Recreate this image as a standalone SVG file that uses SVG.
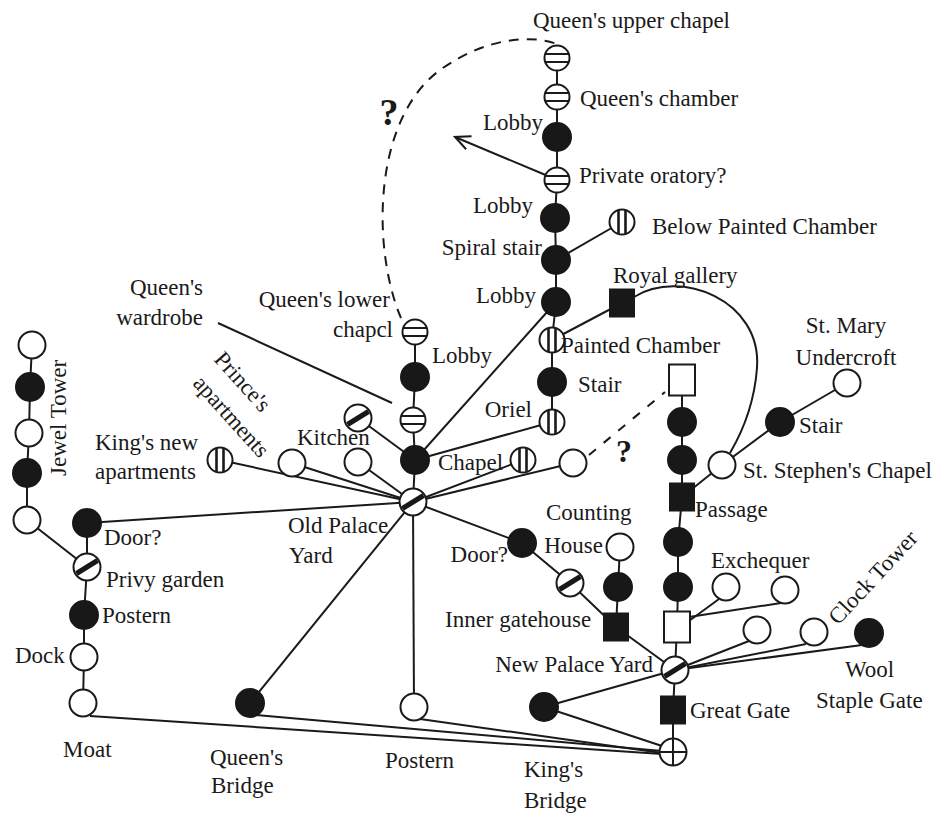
<svg xmlns="http://www.w3.org/2000/svg" xmlns:xlink="http://www.w3.org/1999/xlink" width="938" height="817" viewBox="0 0 938 817">
<style>
.ln{stroke:#1a1a1a;stroke-width:2;fill:none}
.ds{stroke:#1a1a1a;stroke-width:2;fill:none;stroke-dasharray:10 8}
.w{fill:#fff;stroke:#1a1a1a;stroke-width:2}
.b{fill:#181818;stroke:#181818;stroke-width:2}
.st{stroke:#1a1a1a;stroke-width:2;fill:none}
.sv{stroke:#1a1a1a;stroke-width:2.6;fill:none}
.sd{stroke:#181818;stroke-width:5;fill:none}
text{font-family:"Liberation Serif","Times New Roman",serif;font-size:23px;fill:#1a1a1a}
.q{font-size:38px;font-weight:bold}
</style>
<defs>
<g id="cw"><circle r="13.5" class="w"/></g>
<g id="cb"><circle r="14" class="b"/></g>
<g id="ch"><circle r="12.5" class="w"/><path class="st" d="M-11.8 -4H11.8M-11.8 4H11.8"/></g>
<g id="cv"><circle r="12.5" class="w"/><path class="sv" d="M-3.5 -12V12M3.5 -12V12"/></g>
<g id="cd"><circle r="13.5" class="w"/><path class="sd" d="M-10.5 6.5L10.5 -6.5"/></g>
<g id="cx"><circle r="13.5" class="w"/><path class="st" d="M-13.5 0H13.5M0 -13.5V13.5"/></g>
<g id="sb"><rect x="-12" y="-13.5" width="24" height="27" class="b"/></g>
<g id="sw"><rect x="-13" y="-15.5" width="26" height="31" class="w"/></g>
<marker id="arr" viewBox="-16 -8 18 16" refX="0" refY="0" markerWidth="18" markerHeight="16" markerUnits="userSpaceOnUse" orient="auto"><path d="M-15 -7L0 0L-15 7" fill="none" stroke="#1a1a1a" stroke-width="2"/></marker>
</defs>
<rect width="938" height="817" fill="#fff"/>
<g id="connectors">
<polyline class="ln" points="557,58 557,97 557,137 557,180 555,218 556,260 556,302 552,340 552,382 552,422"/>
<line class="ln" x1="556" y1="260" x2="622" y2="222"/>
<line class="ln" x1="552" y1="340" x2="622" y2="303"/>
<path class="ln" d="M634 297C680 268 762 300 757 368C754 408 740 436 730 453"/>
<line class="ln" x1="548" y1="176" x2="455" y2="137" marker-end="url(#arr)"/>
<line class="ln" x1="556" y1="302" x2="415" y2="460"/>
<line class="ln" x1="552" y1="422" x2="415" y2="460"/>
<line class="ln" x1="523" y1="460" x2="413" y2="502"/>
<line class="ln" x1="573" y1="463" x2="413" y2="502"/>
<line class="ln" x1="522" y1="543" x2="413" y2="502"/>
<polyline class="ln" points="522,543 570,583 616,627 675,670"/>
<polyline class="ln" points="620,547 618,587 616,627"/>
<polyline class="ln" points="415,332 415,377 413,420 415,460 413,502"/>
<line class="ln" x1="358" y1="418" x2="415" y2="460"/>
<line class="ln" x1="358" y1="462" x2="413" y2="502"/>
<line class="ln" x1="292" y1="463" x2="413" y2="502"/>
<line class="ln" x1="220" y1="460" x2="413" y2="502"/>
<line class="ln" x1="87" y1="523" x2="413" y2="502"/>
<line class="ln" x1="250" y1="703" x2="413" y2="502"/>
<line class="ln" x1="414" y1="707" x2="413" y2="502"/>
<polyline class="ln" points="32,345 30,387 29,433 27,473 27,520 87,567"/>
<polyline class="ln" points="87,523 87,567 84,615 84,657 83,703"/>
<line class="ln" x1="90" y1="716" x2="662" y2="754"/>
<line class="ln" x1="256" y1="715" x2="662" y2="751"/>
<line class="ln" x1="420" y1="719" x2="662" y2="753"/>
<line class="ln" x1="544" y1="707" x2="662" y2="746"/>
<line class="ln" x1="544" y1="707" x2="675" y2="670"/>
<polyline class="ln" points="682,380 682,422 682,460 682,497 678,542 678,587 677,627 675,670 673,710 673,752"/>
<line class="ln" x1="682" y1="497" x2="722" y2="465"/>
<polyline class="ln" points="722,465 780,422 847,383"/>
<line class="ln" x1="689" y1="621" x2="719" y2="599"/>
<line class="ln" x1="689" y1="617" x2="781" y2="603"/>
<line class="ln" x1="675" y1="670" x2="749" y2="641"/>
<line class="ln" x1="675" y1="670" x2="806" y2="644"/>
<line class="ln" x1="675" y1="670" x2="862" y2="645"/>
<line class="ln" x1="218" y1="323" x2="392" y2="403"/>
<path class="ds" d="M401 318C372 250 372 120 440 70C485 38 530 34 557 44"/>
<line class="ds" x1="589" y1="455" x2="665" y2="392" style="stroke-dasharray:9 10"/>
</g>
<g id="n-queens-upper-chapel"><use href="#ch" x="557" y="58"/></g>
<g id="n-queens-chamber"><use href="#ch" x="557" y="97"/></g>
<g id="n-lobby1"><use href="#cb" x="557" y="137"/></g>
<g id="n-private-oratory"><use href="#ch" x="557" y="180"/></g>
<g id="n-lobby2"><use href="#cb" x="555" y="218"/></g>
<g id="n-spiral-stair"><use href="#cb" x="556" y="260"/></g>
<g id="n-lobby3"><use href="#cb" x="556" y="302"/></g>
<g id="n-painted-chamber"><use href="#cv" x="552" y="340"/></g>
<g id="n-stair"><use href="#cb" x="552" y="382"/></g>
<g id="n-oriel"><use href="#cv" x="552" y="422"/></g>
<g id="n-below-painted"><use href="#cv" x="622" y="222"/></g>
<g id="n-royal-gallery"><use href="#sb" x="622" y="303"/></g>
<g id="n-queens-lower-chapel"><use href="#ch" x="415" y="332"/></g>
<g id="n-lobby4"><use href="#cb" x="415" y="377"/></g>
<g id="n-striped-chapel-side"><use href="#ch" x="413" y="420"/></g>
<g id="n-chapel"><use href="#cb" x="415" y="460"/></g>
<g id="n-chapel-striped"><use href="#cv" x="523" y="460"/></g>
<g id="n-open-q"><use href="#cw" x="573" y="463"/></g>
<g id="n-old-palace-yard"><use href="#cd" x="413" y="502"/></g>
<g id="n-kitchen"><use href="#cd" x="358" y="418"/></g>
<g id="n-kitchen-open"><use href="#cw" x="358" y="462"/></g>
<g id="n-princes"><use href="#cw" x="292" y="463"/></g>
<g id="n-kings-new"><use href="#cv" x="220" y="460"/></g>
<g id="n-jewel1"><use href="#cw" x="32" y="345"/></g>
<g id="n-jewel2"><use href="#cb" x="30" y="387"/></g>
<g id="n-jewel3"><use href="#cw" x="29" y="433"/></g>
<g id="n-jewel4"><use href="#cb" x="27" y="473"/></g>
<g id="n-jewel5"><use href="#cw" x="27" y="520"/></g>
<g id="n-door-left"><use href="#cb" x="87" y="523"/></g>
<g id="n-privy-garden"><use href="#cd" x="87" y="567"/></g>
<g id="n-postern-left"><use href="#cb" x="84" y="615"/></g>
<g id="n-dock"><use href="#cw" x="84" y="657"/></g>
<g id="n-moat"><use href="#cw" x="83" y="703"/></g>
<g id="n-queens-bridge"><use href="#cb" x="250" y="703"/></g>
<g id="n-postern"><use href="#cw" x="414" y="707"/></g>
<g id="n-door-right"><use href="#cb" x="522" y="543"/></g>
<g id="n-inner-gatehouse"><use href="#cd" x="570" y="583"/></g>
<g id="n-counting-house"><use href="#cw" x="620" y="547"/></g>
<g id="n-counting-black"><use href="#cb" x="618" y="587"/></g>
<g id="n-inner-square"><use href="#sb" x="616" y="627"/></g>
<g id="n-white-square-top"><use href="#sw" x="682" y="380"/></g>
<g id="n-r1"><use href="#cb" x="682" y="422"/></g>
<g id="n-r2"><use href="#cb" x="682" y="460"/></g>
<g id="n-passage"><use href="#sb" x="682" y="497"/></g>
<g id="n-r3"><use href="#cb" x="678" y="542"/></g>
<g id="n-r4"><use href="#cb" x="678" y="587"/></g>
<g id="n-white-square-low"><use href="#sw" x="677" y="627"/></g>
<g id="n-st-stephens"><use href="#cw" x="722" y="465"/></g>
<g id="n-stair-right"><use href="#cb" x="780" y="422"/></g>
<g id="n-undercroft"><use href="#cw" x="847" y="383"/></g>
<g id="n-exchequer1"><use href="#cw" x="726" y="587"/></g>
<g id="n-exchequer2"><use href="#cw" x="785" y="590"/></g>
<g id="n-clock1"><use href="#cw" x="757" y="630"/></g>
<g id="n-clock2"><use href="#cw" x="814" y="632"/></g>
<g id="n-wool-staple"><use href="#cb" x="869" y="633"/></g>
<g id="n-new-palace-yard"><use href="#cd" x="675" y="670"/></g>
<g id="n-black-left-npy"><use href="#cb" x="544" y="707"/></g>
<g id="n-great-gate"><use href="#sb" x="673" y="710"/></g>
<g id="n-kings-bridge"><use href="#cx" x="673" y="752"/></g>
<g id="labels">
<text x="533" y="28">Queen's upper chapel</text>
<text x="580" y="106">Queen's chamber</text>
<text x="543" y="130" text-anchor="end">Lobby</text>
<text x="579" y="183">Private oratory?</text>
<text x="533" y="213" text-anchor="end">Lobby</text>
<text x="652" y="234">Below Painted Chamber</text>
<text x="542" y="255" text-anchor="end">Spiral stair</text>
<text x="536" y="303" text-anchor="end">Lobby</text>
<text x="613" y="283">Royal gallery</text>
<text x="561" y="353">Painted Chamber</text>
<text x="390" y="307" text-anchor="end">Queen's lower</text>
<text x="393" y="337" text-anchor="end">chapcl</text>
<text x="432" y="363">Lobby</text>
<text x="203" y="295" text-anchor="end">Queen's</text>
<text x="203" y="325" text-anchor="end">wardrobe</text>
<text transform="translate(213,360) rotate(48)">Prince's</text>
<text transform="translate(192,384) rotate(48)">apartments</text>
<text transform="translate(66,476) rotate(-90)">Jewel Tower</text>
<text x="95" y="450">King's new</text>
<text x="95" y="479">apartments</text>
<text x="297" y="445">Kitchen</text>
<text x="438" y="470">Chapel</text>
<text x="532" y="417" text-anchor="end">Oriel</text>
<text x="578" y="392">Stair</text>
<text x="846" y="333" text-anchor="middle">St. Mary</text>
<text x="846" y="365" text-anchor="middle">Undercroft</text>
<text x="799" y="433">Stair</text>
<text x="743" y="478">St. Stephen's Chapel</text>
<text x="695" y="517">Passage</text>
<text x="288" y="533">Old Palace</text>
<text x="289" y="563">Yard</text>
<text x="104" y="545">Door?</text>
<text x="106" y="587">Privy garden</text>
<text x="102" y="623">Postern</text>
<text x="15" y="663">Dock</text>
<text x="63" y="757">Moat</text>
<text x="210" y="765">Queen's</text>
<text x="211" y="793">Bridge</text>
<text x="385" y="768">Postern</text>
<text x="546" y="520">Counting</text>
<text x="603" y="553" text-anchor="end">House</text>
<text x="508" y="562" text-anchor="end">Door?</text>
<text x="711" y="568">Exchequer</text>
<text x="445" y="627">Inner gatehouse</text>
<text transform="translate(838,626) rotate(-47)">Clock Tower</text>
<text x="653" y="672" text-anchor="end">New Palace Yard</text>
<text x="690" y="718">Great Gate</text>
<text x="845" y="677">Wool</text>
<text x="816" y="708">Staple Gate</text>
<text x="524" y="777">King's</text>
<text x="524" y="808">Bridge</text>
<text class="q" x="389" y="125" text-anchor="middle">?</text>
<text class="q" x="624" y="462" text-anchor="middle" style="font-size:32px">?</text>
</g>
</svg>
